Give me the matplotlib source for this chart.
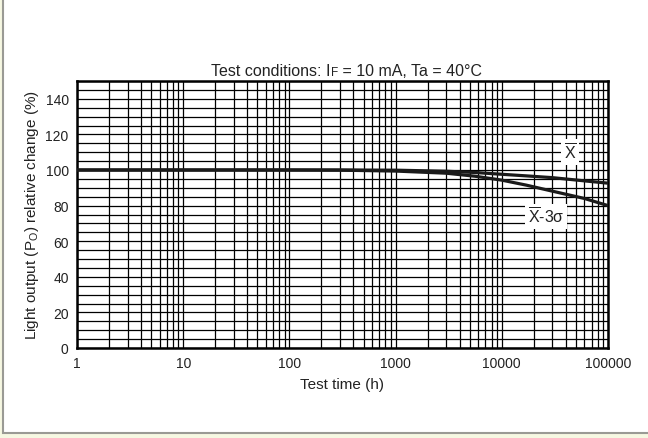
"""Light output relative change vs test time (log x)."""

import matplotlib.pyplot as plt
from matplotlib.patches import Rectangle
from matplotlib.offsetbox import TextArea, HPacker, AnchoredOffsetbox

plt.rcParams["font.family"] = ["Liberation Sans", "DejaVu Sans"]
plt.rcParams["mathtext.fontset"] = "custom"
plt.rcParams["mathtext.rm"] = "Liberation Sans"

# data
test_time_h = [1, 10, 100, 300, 1000, 3000, 5600, 10000, 17000, 30000, 60000, 100000]
mean_pct = [100, 100, 100, 100, 99.9, 99.3, 98.6, 97.6, 96.7, 95.7, 93.9, 92.6]
mean_3sigma_pct = [100, 100, 100, 99.9, 99.4, 98.2, 96.5, 94.3, 91.5, 88.1, 84.0, 80.0]
x_ticks = [1, 10, 100, 1000, 10000, 100000]
y_ticks = [0, 20, 40, 60, 80, 100, 120, 140]

TXT = "#222222"

fig = plt.figure(figsize=(6.48, 4.39), dpi=100, facecolor="#f6f8e2")
fig.patches.append(Rectangle((3 / 648, 5 / 439), 1.0, 1.0, transform=fig.transFigure,
                             facecolor="white", edgecolor="#9a9a94", linewidth=1.5,
                             zorder=-5))

ax = fig.add_axes([77 / 648, 1 - 349 / 439, (608 - 77) / 648, (349 - 82) / 439])
ax.set_xscale("log")
ax.set_xlim(1, 100000)
ax.set_ylim(0, 150)

for series in (mean_pct, mean_3sigma_pct):
    ax.plot(test_time_h, series, color="#1a1a1a", lw=2.3, zorder=3,
            solid_joinstyle="round", solid_capstyle="butt")

ax.set_xticks(x_ticks)
ax.set_xticklabels([str(t) for t in x_ticks])
ax.set_yticks(y_ticks)
ax.set_yticks(range(0, 151, 5), minor=True)
ax.tick_params(which="both", length=0, labelsize=10, colors=TXT, pad=6)
ax.grid(True, which="both", color="black", lw=0.9)
ax.set_axisbelow(True)
for s in ax.spines.values():
    s.set_linewidth(1.8)

ax.set_xlabel("Test time (h)", fontsize=11, color=TXT, labelpad=5)
ax.set_ylabel(r"Light output (P$_\mathregular{O}$) relative change (%)",
              fontsize=11, color=TXT, labelpad=3)

# title with small-cap F
parts = [TextArea("Test conditions: I", textprops=dict(fontsize=11.5, color=TXT)),
         TextArea("F", textprops=dict(fontsize=8.5, color=TXT)),
         TextArea(" = 10 mA, Ta = 40°C", textprops=dict(fontsize=11.5, color=TXT))]
box = HPacker(children=parts, align="baseline", pad=0, sep=0)
ab = AnchoredOffsetbox(loc="lower center", child=box, frameon=False,
                       bbox_to_anchor=(0.508, 1.0), bbox_transform=ax.transAxes,
                       pad=0, borderpad=0.2)
ax.add_artist(ab)

lbl = dict(fontsize=11.5, color=TXT, ha="center", va="center", zorder=4,
           bbox=dict(facecolor="white", edgecolor="none", pad=2))
ax.text(44000, 110, r"$\overline{\mathregular{X}}$", **lbl)
ax.text(26000, 74, r"$\overline{\mathregular{X}}$-3σ", **lbl)

fig.savefig("out.png", dpi=100, facecolor=fig.get_facecolor())
